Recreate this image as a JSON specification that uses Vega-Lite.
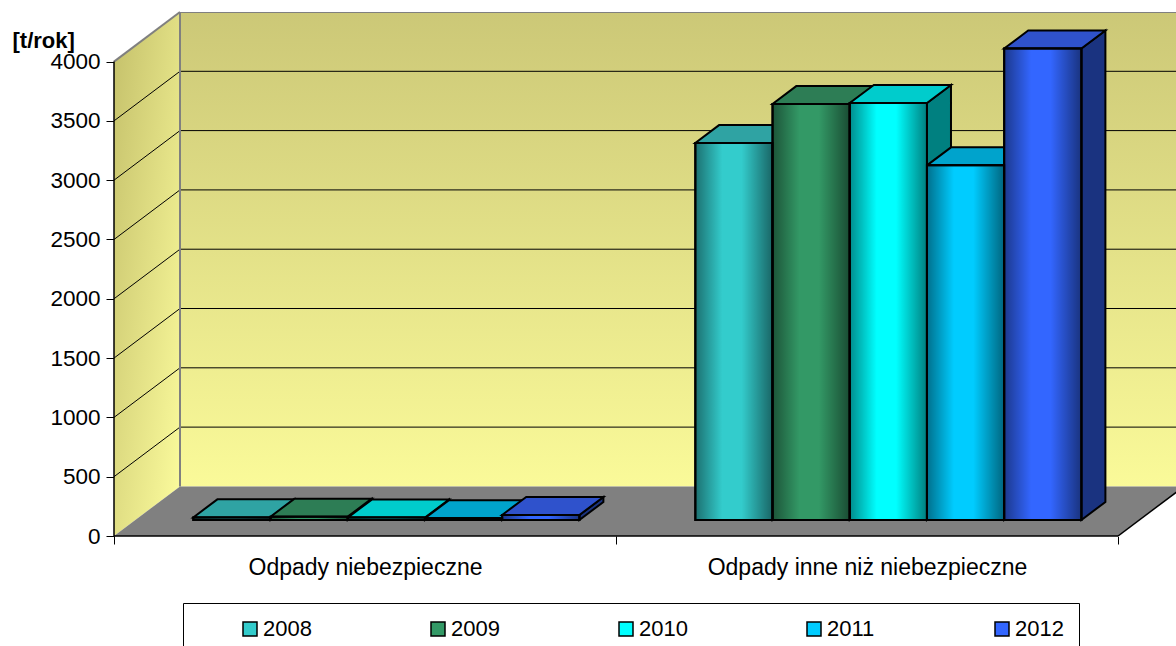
{
  "$schema": "https://vega.github.io/schema/vega-lite/v6.json",
  "width": 1062,
  "height": 524,
  "autosize": {"type": "none"},
  "padding": {"left": 114, "top": 12, "right": 0, "bottom": 110},
  "background": "white",
  "config": {"view": {"stroke": null}, "font": "Liberation Sans"},
  "datasets": {
    "odpady": [
      {"kategoria": "Odpady niebezpieczne", "rok": 2008, "wartosc": 22},
      {"kategoria": "Odpady niebezpieczne", "rok": 2009, "wartosc": 28},
      {"kategoria": "Odpady niebezpieczne", "rok": 2010, "wartosc": 20},
      {"kategoria": "Odpady niebezpieczne", "rok": 2011, "wartosc": 15},
      {"kategoria": "Odpady niebezpieczne", "rok": 2012, "wartosc": 42},
      {"kategoria": "Odpady inne niż niebezpieczne", "rok": 2008, "wartosc": 3179},
      {"kategoria": "Odpady inne niż niebezpieczne", "rok": 2009, "wartosc": 3508},
      {"kategoria": "Odpady inne niż niebezpieczne", "rok": 2010, "wartosc": 3516},
      {"kategoria": "Odpady inne niż niebezpieczne", "rok": 2011, "wartosc": 2990},
      {"kategoria": "Odpady inne niż niebezpieczne", "rok": 2012, "wartosc": 3975}
    ],
    "glebokosc": [{"g": 0}, {"g": 1}],
    "poziomy": [{"p": 500}, {"p": 1000}, {"p": 1500}, {"p": 2000}, {"p": 2500}, {"p": 3000}, {"p": 3500}]
  },
  "layer": [
    {
      "data": {"values": [{}]},
      "mark": {
        "type": "rect",
        "clip": true,
        "fill": {"gradient": "linear", "x1": 0, "y1": 0, "x2": 0, "y2": 1,
          "stops": [{"offset": 0, "color": "#ccc877"}, {"offset": 1, "color": "#fafa99"}]}
      },
      "encoding": {
        "x": {"datum": 0.13147, "type": "quantitative"},
        "x2": {"datum": 2.2},
        "y": {"datum": 418, "type": "quantitative"},
        "y2": {"datum": 4418}
      }
    },
    {
      "data": {"name": "glebokosc"},
      "transform": [
        {"calculate": "datum.g * 0.13147", "as": "sx"},
        {"calculate": "datum.g * 418", "as": "sy0"},
        {"calculate": "4000 + datum.g * 418", "as": "sy1"}
      ],
      "mark": {
        "type": "area", "orient": "vertical",
        "fill": {"gradient": "linear", "x1": 0, "y1": 0, "x2": 1, "y2": 1,
          "stops": [{"offset": 0, "color": "#c4c06a"}, {"offset": 1, "color": "#fdfd9e"}]}
      },
      "encoding": {
        "x": {
          "field": "sx", "type": "quantitative",
          "scale": {"domain": [0, 2.1155], "nice": false, "zero": false},
          "axis": {
            "values": [0, 1, 2], "title": null, "domain": false, "grid": false,
            "tickSize": 8, "tickColor": "black", "tickWidth": 1,
            "labelExpr": "datum.value == 0 ? 'Odpady niebezpieczne' : datum.value == 1 ? 'Odpady inne niż niebezpieczne' : ''",
            "labelOffset": 251, "labelFontSize": 23, "labelColor": "black", "labelFont": "Liberation Sans",
            "labelPadding": 23, "labelBaseline": "middle", "labelAlign": "center", "labelLimit": 0,
            "labelOverlap": false, "labelFlush": false, "labelBound": false
          }
        },
        "y": {
          "field": "sy1", "type": "quantitative", "stack": null,
          "scale": {"domain": [0, 4418], "nice": false, "zero": true},
          "axis": {
            "values": [0, 500, 1000, 1500, 2000, 2500, 3000, 3500, 4000],
            "format": "d", "domain": false, "grid": false,
            "tickSize": 8, "tickColor": "black", "tickWidth": 1,
            "labelFontSize": 22.5, "labelColor": "black", "labelFont": "Liberation Sans", "labelPadding": 6,
            "labelFlush": false, "labelOverlap": false,
            "title": "[t/rok]", "titleAngle": 0, "titleAlign": "left", "titleBaseline": "alphabetic",
            "titleX": -102, "titleY": 35, "titleFontSize": 22, "titleFontWeight": "bold",
            "titleFont": "Liberation Sans", "titleColor": "black"
          }
        },
        "y2": {"field": "sy0"}
      }
    },
    {
      "data": {"name": "glebokosc"},
      "transform": [
        {"calculate": "datum.g * 418", "as": "fy"},
        {"calculate": "datum.g * 0.13147", "as": "fx0"},
        {"calculate": "2 + datum.g * 0.13147", "as": "fx1"}
      ],
      "mark": {"type": "area", "orient": "horizontal", "clip": true, "fill": "#808080"},
      "encoding": {
        "y": {"field": "fy", "type": "quantitative"},
        "x": {"field": "fx0", "type": "quantitative", "stack": null},
        "x2": {"field": "fx1"}
      }
    },
    {
      "data": {"name": "poziomy"},
      "transform": [{"calculate": "datum.p + 418", "as": "pb"}],
      "layer": [
        {
          "mark": {"type": "rule", "clip": true, "color": "black", "strokeWidth": 1},
          "encoding": {
            "x": {"datum": 0.13147, "type": "quantitative"},
            "x2": {"datum": 2.2},
            "y": {"field": "pb", "type": "quantitative"}
          }
        },
        {
          "mark": {"type": "rule", "color": "black", "strokeWidth": 1},
          "encoding": {
            "x": {"datum": 0, "type": "quantitative"},
            "x2": {"datum": 0.13147},
            "y": {"field": "p", "type": "quantitative"},
            "y2": {"field": "pb"}
          }
        }
      ]
    },
    {
      "data": {"values": [{}]},
      "layer": [
        {
          "mark": {"type": "rule", "color": "#808080", "strokeWidth": 2},
          "encoding": {
            "x": {"datum": 0, "type": "quantitative"},
            "x2": {"datum": 0.13147},
            "y": {"datum": 4000, "type": "quantitative"},
            "y2": {"datum": 4418}
          }
        },
        {
          "mark": {"type": "rule", "color": "#808080", "strokeWidth": 2},
          "encoding": {
            "x": {"datum": 0.13147, "type": "quantitative"},
            "y": {"datum": 418, "type": "quantitative"},
            "y2": {"datum": 4418}
          }
        },
        {
          "mark": {"type": "rule", "clip": true, "color": "#808080", "strokeWidth": 2},
          "encoding": {
            "x": {"datum": 0.13147, "type": "quantitative"},
            "x2": {"datum": 2.2},
            "y": {"datum": 4418, "type": "quantitative"}
          }
        },
        {
          "mark": {"type": "rule", "clip": true, "color": "black", "strokeWidth": 1.5},
          "encoding": {
            "x": {"datum": 2, "type": "quantitative"},
            "x2": {"datum": 2.13147},
            "y": {"datum": 0, "type": "quantitative"},
            "y2": {"datum": 418}
          }
        },
        {
          "mark": {"type": "rule", "color": "black", "strokeWidth": 1.5},
          "encoding": {
            "x": {"datum": 0, "type": "quantitative"},
            "y": {"datum": 0, "type": "quantitative"},
            "y2": {"datum": 4000}
          }
        },
        {
          "mark": {"type": "rule", "color": "black", "strokeWidth": 1.5},
          "encoding": {
            "x": {"datum": 0, "type": "quantitative"},
            "x2": {"datum": 2},
            "y": {"datum": 0, "type": "quantitative"}
          }
        }
      ]
    },
    {
      "data": {"name": "odpady"},
      "transform": [
        {"calculate": "indexof(['Odpady niebezpieczne', 'Odpady inne niż niebezpieczne'], datum.kategoria)", "as": "kat"},
        {"calculate": "datum.kat + 0.158 + (datum.rok - 2008) * 0.1538", "as": "x0"},
        {"calculate": "datum.x0 + 0.1538", "as": "x1"},
        {"calculate": "[0, 1]", "as": "k"},
        {"flatten": ["k"]},
        {"calculate": "datum.x0 + datum.k * 0.04786", "as": "lx"},
        {"calculate": "datum.x1 + datum.k * 0.04786", "as": "px"},
        {"calculate": "135 + datum.k * 152", "as": "dol"},
        {"calculate": "datum.dol + datum.wartosc", "as": "gora"}
      ],
      "layer": [
        {
          "mark": {"type": "area", "orient": "vertical", "stroke": "black", "strokeWidth": 2, "strokeJoin": "miter"},
          "encoding": {
            "x": {"field": "px", "type": "quantitative"},
            "y": {"field": "gora", "type": "quantitative", "stack": null},
            "y2": {"field": "dol"},
            "detail": {"field": "kategoria"},
            "color": {"field": "rok", "type": "nominal", "legend": null,
              "scale": {"range": ["#1a6666", "#1a4d33", "#008080", "#006680", "#1a3380"]}}
          }
        },
        {
          "mark": {"type": "area", "orient": "horizontal", "stroke": "black", "strokeWidth": 2, "strokeJoin": "miter"},
          "encoding": {
            "y": {"field": "gora", "type": "quantitative"},
            "x": {"field": "lx", "type": "quantitative", "stack": null},
            "x2": {"field": "px"},
            "detail": {"field": "kategoria"},
            "color": {"field": "rok", "type": "nominal", "legend": null,
              "scale": {"range": ["#2fa3a3", "#2d7d55", "#00cccc", "#00a3cc", "#2f52cc"]}}
          }
        },
        {
          "transform": [{"filter": "datum.k == 0"}],
          "mark": {"type": "rect", "stroke": "black", "strokeWidth": 2},
          "encoding": {
            "x": {"field": "lx", "type": "quantitative"},
            "x2": {"field": "px"},
            "y": {"field": "gora", "type": "quantitative"},
            "y2": {"field": "dol"},
            "color": {
              "field": "rok", "type": "nominal",
              "scale": {"range": ["#33cccc", "#339966", "#00ffff", "#00ccff", "#3366ff"]},
              "legend": {
                "orient": "none", "legendX": 69, "legendY": 591,
                "direction": "horizontal", "columns": 5, "title": null,
                "symbolType": "square", "symbolSize": 196, "symbolStrokeColor": "black",
                "symbolStrokeWidth": 1.5, "symbolOffset": 41,
                "labelFontSize": 22, "labelFont": "Liberation Sans", "labelColor": "black",
                "labelOffset": 2, "columnPadding": 74, "gridAlign": "all",
                "padding": 15, "strokeColor": "black", "fillColor": "white", "cornerRadius": 0
              }
            }
          }
        },
        {
          "transform": [{"filter": "datum.k == 0"}],
          "mark": {
            "type": "rect", "stroke": "black", "strokeWidth": 2,
            "fill": {"gradient": "linear", "x1": 0, "y1": 0, "x2": 1, "y2": 0,
              "stops": [
                {"offset": 0, "color": "rgba(0,0,0,0.45)"},
                {"offset": 0.35, "color": "rgba(0,0,0,0)"},
                {"offset": 0.6, "color": "rgba(0,0,0,0)"},
                {"offset": 1, "color": "rgba(0,0,0,0.5)"}
              ]}
          },
          "encoding": {
            "x": {"field": "lx", "type": "quantitative"},
            "x2": {"field": "px"},
            "y": {"field": "gora", "type": "quantitative"},
            "y2": {"field": "dol"}
          }
        }
      ],
      "resolve": {"scale": {"color": "independent"}}
    }
  ]
}
